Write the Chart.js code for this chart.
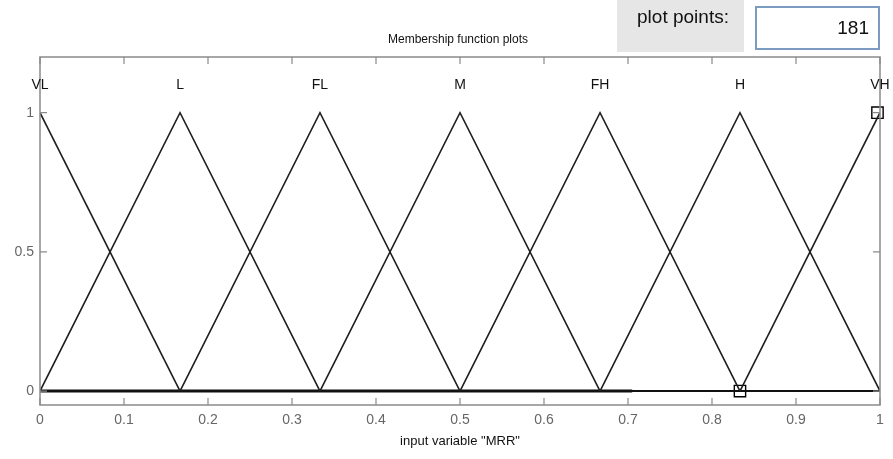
<!DOCTYPE html>
<html>
<head>
<meta charset="utf-8">
<script src="https://cdn.jsdelivr.net/npm/chart.js@4"></script>
<style>
  html, body { margin: 0; padding: 0; background: #fff; }
  #wrap { position: relative; width: 893px; height: 459px; }
</style>
</head>
<body>
<div id="wrap"><canvas id="c" width="893" height="459"></canvas></div>
<script>
// membership functions (triangles), vertices
const MF_NAMES = ['VL', 'L', 'FL', 'M', 'FH', 'H', 'VH'];
const MF_PEAKS = [0, 0.1667, 0.3333, 0.5, 0.6667, 0.8333, 1];
const MF_X = [
  [0, 0.1667],
  [0, 0.1667, 0.3333],
  [0.1667, 0.3333, 0.5],
  [0.3333, 0.5, 0.6667],
  [0.5, 0.6667, 0.8333],
  [0.6667, 0.8333, 1],
  [0.8333, 1],
];
const MF_Y = [
  [1, 0],
  [0, 1, 0],
  [0, 1, 0],
  [0, 1, 0],
  [0, 1, 0],
  [0, 1, 0],
  [0, 1],
];
const MARKER_X = [0.8333, 0.997];
const MARKER_Y = [0, 1];
const X_TICKS = [0, 0.1, 0.2, 0.3, 0.4, 0.5, 0.6, 0.7, 0.8, 0.9, 1];
const Y_TICKS = [0, 0.5, 1];

const FONT = 'Liberation Sans, Arial, sans-serif';
const LINE = '#1e1e1e';

const datasets = MF_X.map((xs, i) => ({
  label: MF_NAMES[i],
  data: xs.map((x, j) => ({ x, y: MF_Y[i][j] })),
  borderColor: LINE,
  borderWidth: 1.6,
  pointRadius: 0,
  tension: 0,
}));
// baseline along 0 (drawn heavier on the left part)
datasets.push({
  label: 'base',
  data: [{ x: 0, y: 0 }, { x: 1, y: 0 }],
  borderColor: '#111',
  borderWidth: 2,
  pointRadius: 0,
});
datasets.push({
  label: 'base2',
  data: [{ x: 0, y: 0 }, { x: 0.705, y: 0 }],
  borderColor: '#111',
  borderWidth: 3,
  pointRadius: 0,
});
datasets.push({
  label: 'markers',
  data: MARKER_X.map((x, i) => ({ x, y: MARKER_Y[i] })),
  showLine: false,
  clip: false,
  pointStyle: 'rect',
  pointRadius: 8,
  pointBackgroundColor: 'rgba(0,0,0,0)',
  pointBorderColor: '#000',
  pointBorderWidth: 1.4,
});

// frame, inward ticks, MF names, title and "plot points" box
const decor = {
  id: 'decor',
  afterDatasetsDraw(chart) {
    const { ctx, chartArea: a, scales: { x, y } } = chart;
    ctx.save();
    ctx.strokeStyle = '#8a8a8a';
    ctx.lineWidth = 1.5;
    ctx.strokeRect(a.left, a.top, a.right - a.left, a.bottom - a.top);
    ctx.lineWidth = 1.2;
    ctx.beginPath();
    X_TICKS.forEach(v => {
      const px = x.getPixelForValue(v);
      ctx.moveTo(px, a.bottom); ctx.lineTo(px, a.bottom - 7);
      ctx.moveTo(px, a.top); ctx.lineTo(px, a.top + 7);
    });
    Y_TICKS.forEach(v => {
      const py = y.getPixelForValue(v);
      ctx.moveTo(a.left, py); ctx.lineTo(a.left + 7, py);
      ctx.moveTo(a.right, py); ctx.lineTo(a.right - 7, py);
    });
    ctx.stroke();

    ctx.fillStyle = '#111';
    ctx.font = '14px ' + FONT;
    ctx.textAlign = 'center';
    ctx.textBaseline = 'middle';
    MF_NAMES.forEach((n, i) => {
      ctx.fillText(n, x.getPixelForValue(MF_PEAKS[i]), y.getPixelForValue(1.1));
    });

    ctx.font = '12px ' + FONT;
    ctx.fillText('Membership function plots', 458, 40);

    // plot points panel
    ctx.fillStyle = '#e6e6e6';
    ctx.fillRect(617, 0, 127, 52);
    ctx.fillStyle = '#111';
    ctx.font = '19px ' + FONT;
    ctx.fillText('plot points:', 683, 18);
    ctx.fillStyle = '#fff';
    ctx.fillRect(755, 6, 125, 44);
    ctx.strokeStyle = '#7b9cc0';
    ctx.lineWidth = 2;
    ctx.strokeRect(756, 7, 123, 42);
    ctx.fillStyle = '#111';
    ctx.textAlign = 'right';
    ctx.fillText('181', 869, 29);
    ctx.restore();
  }
};

new Chart(document.getElementById('c'), {
  type: 'line',
  data: { datasets },
  options: {
    responsive: false,
    animation: false,
    layout: { padding: { top: 57, right: 13, left: 0, bottom: 10 } },
    plugins: { legend: { display: false }, tooltip: { enabled: false } },
    scales: {
      x: {
        type: 'linear',
        min: 0, max: 1,
        afterBuildTicks(s) { s.ticks = X_TICKS.map(v => ({ value: v })); },
        afterFit(s) { s.height = 44; },
        ticks: {
          color: '#666',
          font: { family: FONT, size: 14 },
          padding: 7,
          callback: v => String(v),
        },
        grid: { display: false, drawTicks: false },
        border: { display: false },
        title: {
          display: true,
          text: 'input variable "MRR"',
          color: '#111',
          font: { family: FONT, size: 13 },
          padding: { top: 0, bottom: 0 },
        },
      },
      y: {
        type: 'linear',
        min: -0.05, max: 1.2,
        afterBuildTicks(s) { s.ticks = Y_TICKS.map(v => ({ value: v })); },
        afterFit(s) { s.width = 40; },
        ticks: {
          color: '#666',
          font: { family: FONT, size: 14 },
          padding: 6,
          callback: v => String(v),
        },
        grid: { display: false, drawTicks: false },
        border: { display: false },
      },
    },
  },
  plugins: [decor],
});
</script>
</body>
</html>
